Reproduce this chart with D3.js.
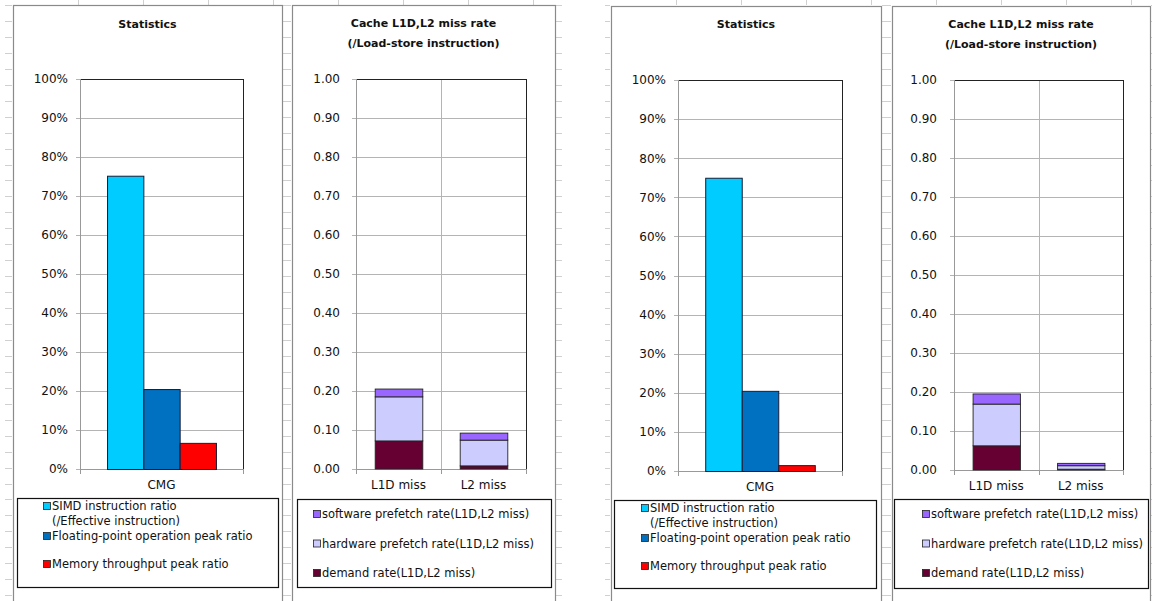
<!DOCTYPE html>
<html><head><meta charset="utf-8">
<script src="https://cdn.jsdelivr.net/npm/d3@7"></script>
<style>body{margin:0;background:#fff}svg{display:block}text{font-family:"DejaVu Sans",Verdana,sans-serif;fill:#111}</style>
</head><body><svg id="c" width="1152" height="601"></svg>
<script>
// ---------- data ----------
const statCategories = ["CMG"];
const statSeriesNames = ["SIMD instruction ratio", "Floating-point  operation peak ratio", "Memory throughput peak ratio"];
const statSeriesNote = "(/Effective instruction)";
const statLeft = [0.752, 0.205, 0.067];
const statRight = [0.750, 0.205, 0.015];
const pctTicks = [0, 0.1, 0.2, 0.3, 0.4, 0.5, 0.6, 0.7, 0.8, 0.9, 1.0];

const cacheCategories = ["L1D miss", "L2 miss"];
const cacheSeriesNames = ["demand rate(L1D,L2 miss)", "hardware prefetch rate(L1D,L2 miss)", "software prefetch rate(L1D,L2 miss)"];
const demandLeft = [0.072, 0.008];
const hwLeft = [0.113, 0.066];
const swLeft = [0.020, 0.018];
const demandRight = [0.062, 0.002];
const hwRight = [0.107, 0.009];
const swRight = [0.026, 0.006];
const rateTicks = [0, 0.1, 0.2, 0.3, 0.4, 0.5, 0.6, 0.7, 0.8, 0.9, 1.0];

const statTitle = "Statistics";
const cacheTitle = ["Cache L1D,L2 miss rate", "(/Load-store instruction)"];
const statColors = ["#00CCFF", "#0070C0", "#FF0000"];
const cacheColors = ["#660033", "#CCCCFF", "#9966FF"];

// ---------- drawing ----------
const svg = d3.select("#c");
const GRID = "#b4b4b4", FRAME = "#8a8a8a";

// spreadsheet background stubs
const bg = svg.append("g");
const stubY = d3.range(5, 601, 15.95);
const gaps = [[5,12],[283,291],[556,562],[605,610],[882,891],[1151,1152]];
gaps.forEach(([a,b]) => stubY.forEach(y => bg.append("line").attr("x1",a).attr("x2",b).attr("y1",Math.round(y)+0.5).attr("y2",Math.round(y)+0.5).attr("stroke","#d0d0d0")));
[13, 611].forEach(s => d3.range(1, 9).forEach(k => bg.append("line").attr("x1", s+65*k+0.5).attr("x2", s+65*k+0.5).attr("y1",0).attr("y2",5).attr("stroke","#d0d0d0")));

function panelFrame(x0, x1, yTop) {
  svg.append("rect").attr("x", x0+0.5).attr("y", yTop+0.5).attr("width", x1-x0).attr("height", 620).attr("fill","#fff").attr("stroke",FRAME).attr("stroke-width",1.2);
}

function yAxisAndGrid(g, y, x0, x1, ticks, fmt, pad) {
  g.append("g").selectAll("line").data(ticks).join("line")
    .attr("x1", x0-4).attr("x2", x1).attr("y1", d => Math.round(y(d))+0.5).attr("y2", d => Math.round(y(d))+0.5)
    .attr("stroke", GRID);
  const ax = g.append("g").attr("transform", `translate(${x0},0)`)
    .call(d3.axisLeft(y).tickValues(ticks).tickFormat(fmt).tickSize(0).tickPadding(pad));
  ax.select(".domain").remove();
  ax.selectAll("text").attr("font-size", 12).style("font-family", '"DejaVu Sans",Verdana,sans-serif').attr("fill","#111");
}

function plotFrame(g, x0, x1, yTop, yBot) {
  g.append("line").attr("x1",x0).attr("x2",x1+0.5).attr("y1",yTop+0.5).attr("y2",yTop+0.5).attr("stroke","#222");
  g.append("line").attr("x1",x1+0.5).attr("x2",x1+0.5).attr("y1",yTop).attr("y2",yBot).attr("stroke","#222");
  g.append("line").attr("x1",x0+0.5).attr("x2",x0+0.5).attr("y1",yTop).attr("y2",yBot).attr("stroke","#999");
  g.append("line").attr("x1",x0).attr("x2",x1).attr("y1",yBot+0.5).attr("y2",yBot+0.5).attr("stroke","#999");
}

function drawStats(o, values) {
  panelFrame(o.px0, o.px1, o.ptop);
  const g = svg.append("g");
  const y = d3.scaleLinear().domain([0,1]).range([o.yBot, o.yTop]);
  g.append("text").attr("x",(o.px0+o.px1)/2).attr("y",o.titleY).attr("text-anchor","middle").attr("dominant-baseline","central").attr("font-size",11).attr("font-weight","bold").text(statTitle);
  yAxisAndGrid(g, y, o.x0, o.x1, pctTicks, d3.format(".0%"), 12);
  const x = d3.scaleBand().domain(statCategories).range([o.x0, o.x1]).padding(0);
  const xs = d3.scaleBand().domain(d3.range(values.length)).range([0, x.bandwidth()]).paddingInner(0).paddingOuter(0.745);
  plotFrame(g, o.x0, o.x1, o.yTop, o.yBot);
  statCategories.forEach(c => {
    g.selectAll(null).data(values).join("rect")
      .attr("x", (d,i) => x(c)+xs(i)+0.5).attr("width", xs.bandwidth())
      .attr("y", d => y(d)+0.5).attr("height", d => o.yBot - y(d))
      .attr("fill", (d,i) => statColors[i]).attr("stroke","#1a1a33").attr("stroke-width",1);
    [x(c), x(c)+x.bandwidth()].forEach(t => g.append("line").attr("x1",t+0.5).attr("x2",t+0.5).attr("y1",o.yBot).attr("y2",o.yBot+5).attr("stroke","#999"));
  });
  const xa = g.append("g").attr("transform",`translate(0,${o.yBot})`).call(d3.axisBottom(x).tickSize(0).tickPadding(11));
  xa.select(".domain").remove();
  xa.selectAll("text").attr("font-size",12).style("font-family",'"DejaVu Sans",Verdana,sans-serif').attr("fill","#111");
  // legend
  const L = o.leg;
  g.append("rect").attr("x",L.x0+0.5).attr("y",L.y0+0.5).attr("width",L.x1-L.x0).attr("height",L.y1-L.y0).attr("fill","#fff").attr("stroke","#111").attr("stroke-width",1.2);
  const rows = [L.y0+8, L.y0+38, L.y0+66];
  statSeriesNames.forEach((n,i) => {
    g.append("rect").attr("x",L.sx+0.5).attr("y",rows[i]-3.5).attr("width",7).attr("height",7).attr("fill",statColors[i]).attr("stroke","#222").attr("stroke-width",0.8);
    g.append("text").attr("x",L.sx+9).attr("y",rows[i]).attr("dominant-baseline","central").attr("font-size",11.5).text(n);
  });
  g.append("text").attr("x",L.sx+9).attr("y",L.y0+23).attr("dominant-baseline","central").attr("font-size",11.5).text(statSeriesNote);
}

function drawCache(o, dem, hw, sw) {
  panelFrame(o.px0, o.px1, o.ptop);
  const g = svg.append("g");
  const y = d3.scaleLinear().domain([0,1]).range([o.yBot, o.yTop]);
  cacheTitle.forEach((t,i) => g.append("text").attr("x",(o.px0+o.px1)/2).attr("y",o.titleY+20*i).attr("text-anchor","middle").attr("dominant-baseline","central").attr("font-size",11).attr("font-weight","bold").text(t));
  yAxisAndGrid(g, y, o.x0, o.x1, rateTicks, d3.format(".2f"), o.tpad);
  const x = d3.scaleBand().domain(cacheCategories).range([o.x0, o.x1]).padding(0);
  cacheCategories.slice(1).forEach(c => g.append("line").attr("x1",Math.round(x(c))+0.5).attr("x2",Math.round(x(c))+0.5).attr("y1",o.yTop).attr("y2",o.yBot).attr("stroke",GRID));
  plotFrame(g, o.x0, o.x1, o.yTop, o.yBot);
  const rowsData = cacheCategories.map((c,i) => ({cat:c, demand:dem[i], hw:hw[i], sw:sw[i]}));
  const stack = d3.stack().keys(["demand","hw","sw"])(rowsData);
  const bw = x.bandwidth()*0.56;
  stack.forEach((layer, li) => {
    g.selectAll(null).data(layer).join("rect")
      .attr("x", d => x(d.data.cat) + (x.bandwidth()-bw)/2 + 0.5).attr("width", bw)
      .attr("y", d => y(d[1])).attr("height", d => y(d[0]) - y(d[1]))
      .attr("fill", cacheColors[li]).attr("stroke","#222").attr("stroke-width",0.9);
  });
  [o.x0, ...cacheCategories.map(c => x(c)+x.bandwidth())].forEach(t => g.append("line").attr("x1",Math.round(t)+0.5).attr("x2",Math.round(t)+0.5).attr("y1",o.yBot).attr("y2",o.yBot+5).attr("stroke","#999"));
  const xa = g.append("g").attr("transform",`translate(0,${o.yBot})`).call(d3.axisBottom(x).tickSize(0).tickPadding(11));
  xa.select(".domain").remove();
  xa.selectAll("text").attr("font-size",12).style("font-family",'"DejaVu Sans",Verdana,sans-serif').attr("fill","#111");
  const L = o.leg;
  g.append("rect").attr("x",L.x0+0.5).attr("y",L.y0+0.5).attr("width",L.x1-L.x0).attr("height",L.y1-L.y0).attr("fill","#fff").attr("stroke","#111").attr("stroke-width",1.2);
  const order = [2,1,0];
  order.forEach((si, r) => {
    const yy = L.y0 + 15 + 29.5*r;
    g.append("rect").attr("x",L.sx+0.5).attr("y",yy-3.5).attr("width",7).attr("height",7).attr("fill",cacheColors[si]).attr("stroke","#222").attr("stroke-width",0.8);
    g.append("text").attr("x",L.sx+9).attr("y",yy).attr("dominant-baseline","central").attr("font-size",11.5).text(cacheSeriesNames[si]);
  });
}

drawStats({px0:13, px1:282, ptop:5, titleY:24, x0:80, x1:243, yTop:79, yBot:469,
  leg:{x0:17, x1:278, y0:498, y1:587, sx:43}}, statLeft);
drawCache({px0:292, px1:555, ptop:5, titleY:23, x0:356, x1:526, yTop:79, yBot:469, tpad:16,
  leg:{x0:297, x1:551, y0:499, y1:587, sx:313}}, demandLeft, hwLeft, swLeft);
drawStats({px0:611, px1:881, ptop:6, titleY:24, x0:678, x1:842, yTop:80, yBot:471,
  leg:{x0:614, x1:876, y0:500, y1:588, sx:641}}, statRight);
drawCache({px0:892, px1:1150, ptop:6, titleY:24, x0:954, x1:1123, yTop:80, yBot:470, tpad:17,
  leg:{x0:894, x1:1148, y0:499, y1:588, sx:922}}, demandRight, hwRight, swRight);
</script></body></html>
